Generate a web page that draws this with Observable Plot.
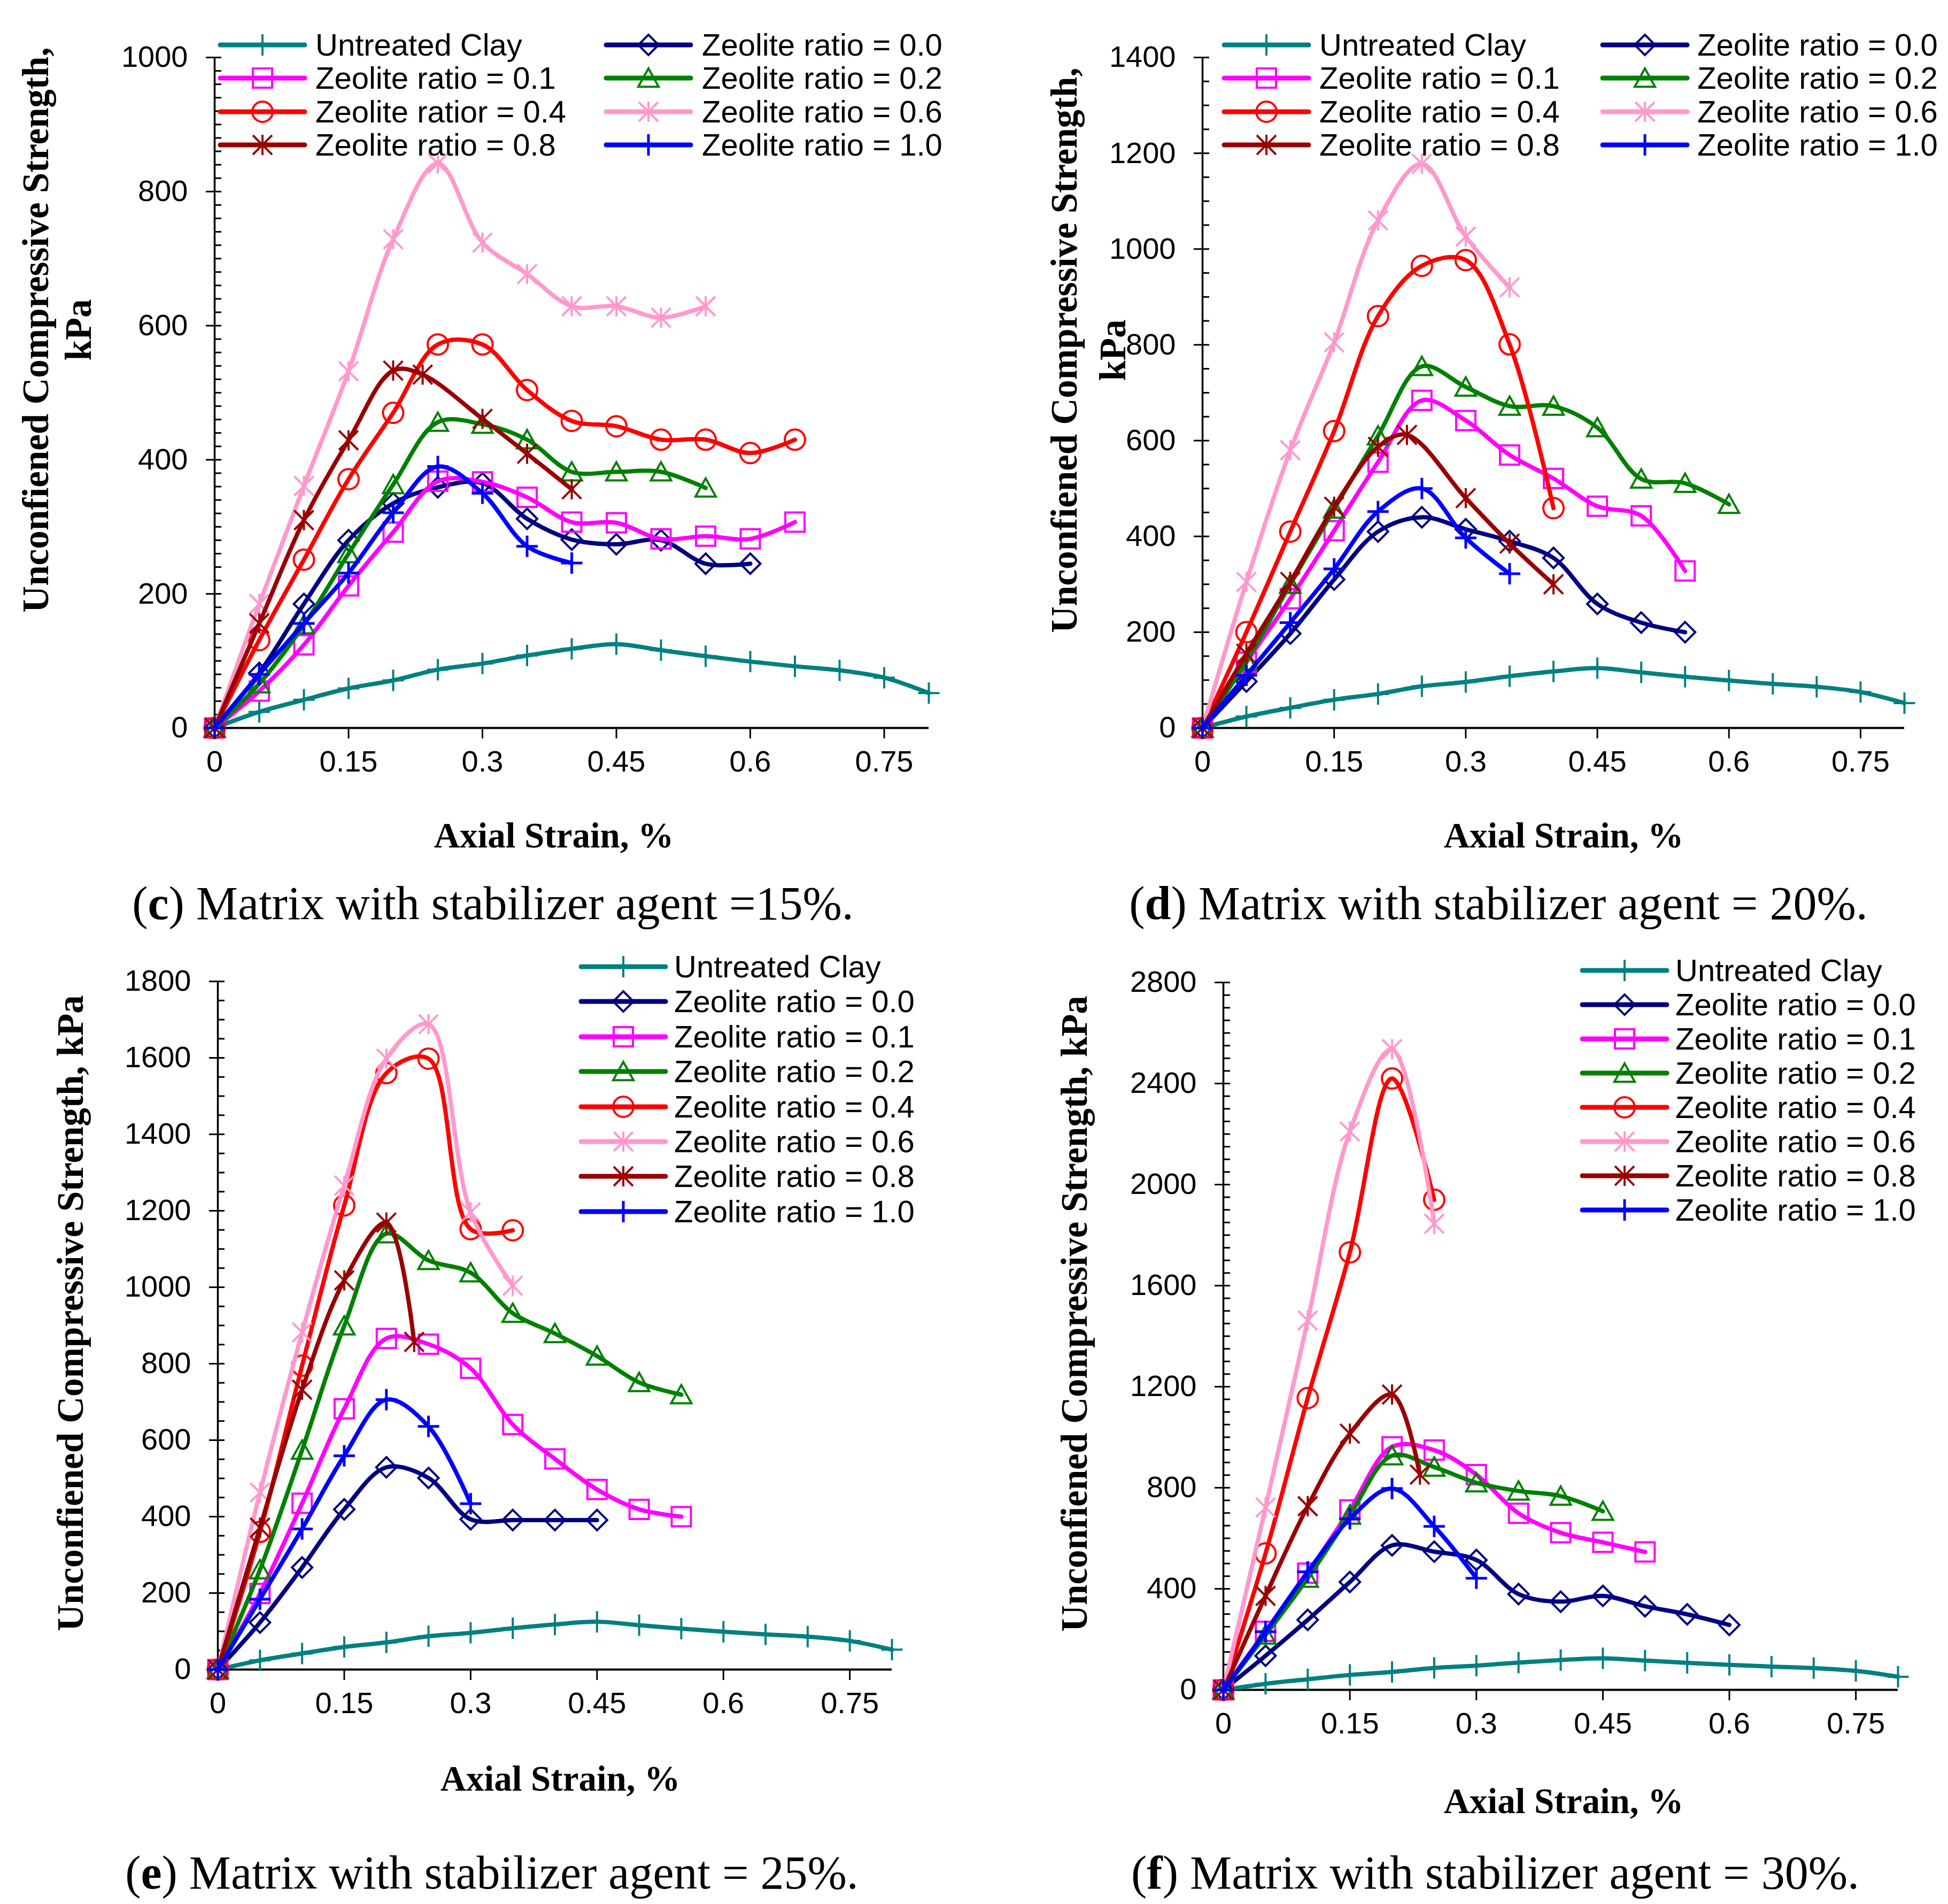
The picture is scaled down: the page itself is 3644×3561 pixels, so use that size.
<!DOCTYPE html>
<html><head><meta charset="utf-8">
<script src="https://cdn.jsdelivr.net/npm/d3@7"></script>
<script src="https://cdn.jsdelivr.net/npm/@observablehq/plot@0.6"></script>
<style>
html,body{margin:0;padding:0;background:#fff;}
#page{position:relative;width:3644px;height:3561px;overflow:hidden;background:#fff;}
.abs{position:absolute;white-space:nowrap;line-height:1;}
.serif{font-family:"Liberation Serif","Times New Roman",serif;color:#000;}
.sans{font-family:"Liberation Sans",Arial,sans-serif;color:#000;}
svg.plot{position:absolute;overflow:visible;}
</style></head><body><div id="page"></div>
<script>
// ---------------- DATA ----------------
const strainSteps = [0,0.05,0.1,0.15,0.2,0.25,0.3,0.35,0.4,0.45,0.5,0.55,0.6,0.65,0.7,0.75,0.8];
const strainRatio08 = [0,0.05,0.1,0.15,0.2,0.233,0.3,0.35,0.4];
const xTickValues = [0,0.15,0.3,0.45,0.6,0.75];

const untreatedClay = [0,24,42,59,71,87,96,108,118,125,116,107,99,92,86,75,52];

// (c) stabilizer agent = 15%
const s15_r00 = [0,82,185,280,335,359,365,312,281,274,280,245,245];
const s15_r01 = [0,55,124,212,292,368,367,344,307,306,282,286,282,307];
const s15_r02 = [0,66,154,260,363,456,453,430,382,382,382,358];
const s15_r04 = [0,131,251,371,470,572,572,504,458,450,430,430,410,430];
const s15_r06 = [0,185,361,532,729,842,724,677,629,629,612,629];
const s15_r08 = [0,156,310,429,533,527,461,409,356];
const s15_r10 = [0,80,156,231,321,390,350,271,246];

// (d) stabilizer agent = 20%
const s20_r00 = [0,97,197,310,410,440,415,390,355,259,220,200];
const s20_r01 = [0,137,270,412,555,684,642,570,521,463,443,328];
const s20_r02 = [0,140,300,457,610,755,712,672,672,627,520,511,467];
const s20_r04 = [0,200,410,620,860,965,977,801,459];
const s20_r06 = [0,305,580,805,1060,1178,1026,920];
const s20_r08 = [0,155,305,462,587,612,480,385,300];
const s20_r10 = [0,110,220,332,452,500,397,322];

// (e) stabilizer agent = 25%
const s25_r00 = [0,123,267,419,529,501,393,391,391,391];
const s25_r01 = [0,199,435,682,866,851,788,641,551,471,419,400];
const s25_r02 = [0,261,574,899,1140,1070,1038,932,879,820,751,719];
const s25_r04 = [0,360,795,1214,1560,1598,1152,1149];
const s25_r06 = [0,463,882,1266,1598,1688,1196,1004];
const s25_r08 = [0,371,732,1018,1169,857];
const s25_r10 = [0,184,368,559,706,636,434];

// (f) stabilizer agent = 30%
const s30_r00 = [0,135,277,427,572,547,514,379,349,372,331,299,257];
const s30_r01 = [0,232,462,712,962,949,852,699,622,584,546];
const s30_r02 = [0,217,442,692,927,882,820,787,767,707];
const s30_r04 = [0,540,1155,1732,2420,1940];
const s30_r06 = [0,722,1462,2210,2536,1845];
const s30_r08 = [0,372,727,1014,1169,852];
const s30_r10 = [0,230,467,677,797,647,442];

const yTicks15 = [0,200,400,600,800,1000];
const yTicks20 = [0,200,400,600,800,1000,1200,1400];
const yTicks25 = [0,200,400,600,800,1000,1200,1400,1600,1800];
const yTicks30 = [0,400,800,1200,1600,2000,2400,2800];

const legendLabels15 = ["Untreated Clay","Zeolite ratio = 0.0","Zeolite ratio = 0.1","Zeolite ratio = 0.2","Zeolite ratior = 0.4","Zeolite ratio = 0.6","Zeolite ratio = 0.8","Zeolite ratio = 1.0"];
const legendLabels = ["Untreated Clay","Zeolite ratio = 0.0","Zeolite ratio = 0.1","Zeolite ratio = 0.2","Zeolite ratio = 0.4","Zeolite ratio = 0.6","Zeolite ratio = 0.8","Zeolite ratio = 1.0"];

const yTitle2 = ["Unconfiened Compressive Strength,", "kPa"];
const yTitle1 = "Unconfiened Compressive Strength, kPa";
const xTitle = "Axial Strain, %";
const captions = [
  ["c", " Matrix with stabilizer agent =15%."],
  ["d", " Matrix with stabilizer agent = 20%."],
  ["e", " Matrix with stabilizer agent = 25%."],
  ["f", " Matrix with stabilizer agent = 30%."]
];

// ---------------- STYLE ----------------
const colors = ["#008080","#000080","#FF00FF","#008000","#FF0000","#FF99CC","#990000","#0000FF"];
const R = s => Math.sqrt(s / Math.PI);
const symPlus = {draw(c,s){const r=R(s);c.moveTo(-r,0);c.lineTo(r,0);c.moveTo(0,-r);c.lineTo(0,r);}};
const symDiamond = {draw(c,s){const r=R(s);c.moveTo(0,-r);c.lineTo(r,0);c.lineTo(0,r);c.lineTo(-r,0);c.closePath();}};
const symSquare = {draw(c,s){const r=R(s);c.moveTo(-r,-r);c.lineTo(r,-r);c.lineTo(r,r);c.lineTo(-r,r);c.closePath();}};
const symTriangle = {draw(c,s){const r=R(s);c.moveTo(0,-r*0.95);c.lineTo(r,r*0.85);c.lineTo(-r,r*0.85);c.closePath();}};
const symCircle = {draw(c,s){const r=R(s);c.moveTo(r,0);c.arc(0,0,r,0,2*Math.PI);c.closePath();}};
const symStar = {draw(c,s){const r=R(s);c.moveTo(-r,-r);c.lineTo(r,r);c.moveTo(-r,r);c.lineTo(r,-r);c.moveTo(0,-r*1.05);c.lineTo(0,r*1.05);}};
const symbols = [symPlus,symDiamond,symSquare,symTriangle,symCircle,symStar,symStar,symPlus];
const radii = [20,19,18,19,19,18,18,20];
const markW = [4,4,4,4,4,4,4,5];
const SANS = '"Liberation Sans", Arial, sans-serif';

const panels = [
  {series:[untreatedClay,s15_r00,s15_r01,s15_r02,s15_r04,s15_r06,s15_r08,s15_r10], yTicks:yTicks15, minor:20,
   svgLeft:0, svgTop:0, x0:401, x1:1737, y0:1361, ytop:107,
   legend:{labels:legendLabels15, cols:2, colX:[408,1130], textX:[590,1313], rowY:84, rowStep:62.3},
   yTitle:{two:true, x1:67, x2:147, y:617}, xTitle:{x:1036, y:1562}, cap:{x:922, y:1690}},
  {series:[untreatedClay,s20_r00,s20_r01,s20_r02,s20_r04,s20_r06,s20_r08,s20_r10], yTicks:yTicks20, minor:50,
   svgLeft:1822, svgTop:0, x0:2249, x1:3562, y0:1361, ytop:107,
   legend:{labels:legendLabels, cols:2, colX:[2286,2994], textX:[2468,3175], rowY:84, rowStep:62.3},
   yTitle:{two:true, x1:1991, x2:2082, y:655}, xTitle:{x:2925, y:1562}, cap:{x:2803, y:1690}},
  {series:[untreatedClay,s25_r00,s25_r01,s25_r02,s25_r04,s25_r06,s25_r08,s25_r10], yTicks:yTicks25, minor:50,
   svgLeft:0, svgTop:1760, x0:407, x1:1668, y0:3122, ytop:1835,
   legend:{labels:legendLabels, cols:1, colX:[1083], textX:[1261], rowY:1808, rowStep:65.4},
   yTitle:{two:false, x1:132, y:2456}, xTitle:{x:1048, y:3326}, cap:{x:920, y:3503}},
  {series:[untreatedClay,s30_r00,s30_r01,s30_r02,s30_r04,s30_r06,s30_r08,s30_r10], yTicks:yTicks30, minor:50,
   svgLeft:1822, svgTop:1760, x0:2288, x1:3550, y0:3160, ytop:1837,
   legend:{labels:legendLabels, cols:1, colX:[2956], textX:[3134], rowY:1815, rowStep:64},
   yTitle:{two:false, x1:2010, y:2457}, xTitle:{x:2925, y:3368}, cap:{x:2797, y:3503}}
];

const page = document.getElementById("page");

function addText(html, x, y, cls, size, bold, rotate) {
  const d = document.createElement("div");
  d.className = "abs " + cls;
  d.style.left = x + "px"; d.style.top = y + "px";
  d.style.fontSize = size + "px";
  if (bold) d.style.fontWeight = "bold";
  d.style.transform = "translate(-50%,-50%)" + (rotate ? " rotate(-90deg)" : "");
  d.innerHTML = html;
  page.appendChild(d);
}

panels.forEach((p, pi) => {
  const rows = [];
  p.series.forEach((vals, i) => {
    const xs = i === 6 ? strainRatio08 : strainSteps;
    vals.forEach((v, j) => rows.push({s: i, strain: xs[j], ucs: v}));
  });
  const W = 1822;
  const mb = 130;
  const H = p.y0 - p.svgTop + mb;
  const frameW = p.x1 - p.x0;
  const ymax = p.yTicks[p.yTicks.length - 1];
  const minorTicks = d3.range(0, ymax + 0.001, p.minor);

  const marks = [
    Plot.tickY(minorTicks, {y: d => d, insetRight: frameW - 13, stroke: "#000", strokeWidth: 3}),
    Plot.axisY({ticks: p.yTicks, tickSize: 16, tickPadding: 34, tickFormat: d => String(d), fontSize: 56, fontFamily: SANS, strokeWidth: 3, label: null}),
    Plot.axisX({ticks: xTickValues, tickSize: 20, tickPadding: 22, tickFormat: d => String(d), fontSize: 56, fontFamily: SANS, strokeWidth: 3, label: null}),
    Plot.ruleX([0], {stroke: "#000", strokeWidth: 3.5}),
    Plot.ruleY([0], {stroke: "#000", strokeWidth: 4})
  ];
  for (let i = 0; i < 8; i++) {
    const data = rows.filter(r => r.s === i);
    marks.push(Plot.line(data, {x: "strain", y: "ucs", stroke: colors[i], strokeWidth: 8, curve: "catmull-rom", strokeLinejoin: "round", strokeLinecap: "round"}));
    marks.push(Plot.dot(data, {x: "strain", y: "ucs", symbol: symbols[i], r: radii[i], stroke: colors[i], fill: "none", strokeWidth: markW[i]}));
  }
  const chart = Plot.plot({
    width: W, height: H,
    marginLeft: p.x0 - p.svgLeft, marginRight: p.svgLeft + W - p.x1,
    marginTop: p.ytop - p.svgTop, marginBottom: mb,
    x: {domain: [0, 0.8]},
    y: {domain: [0, ymax]},
    style: {background: "transparent", fontFamily: SANS, overflow: "visible"},
    marks
  });
  chart.classList.add("plot");
  chart.style.left = p.svgLeft + "px";
  chart.style.top = p.svgTop + "px";
  page.appendChild(chart);

  // legend
  const L = p.legend;
  L.labels.forEach((lab, i) => {
    const col = L.cols === 2 ? i % 2 : 0;
    const row = L.cols === 2 ? Math.floor(i / 2) : i;
    const cy = L.rowY + row * L.rowStep;
    const sw = d3.create("svg").attr("width", 170).attr("height", 60)
      .style("position", "absolute").style("left", L.colX[col] + "px").style("top", (cy - 30) + "px").style("overflow", "visible");
    sw.append("line").attr("x1", 4).attr("x2", 162).attr("y1", 30).attr("y2", 30)
      .attr("stroke", colors[i]).attr("stroke-width", 9).attr("stroke-linecap", "round");
    sw.append("path").attr("transform", "translate(83,30)")
      .attr("d", d3.symbol(symbols[i], Math.PI * radii[i] * radii[i])())
      .attr("fill", "none").attr("stroke", colors[i]).attr("stroke-width", markW[i]);
    page.appendChild(sw.node());
    const t = document.createElement("div");
    t.className = "abs sans";
    t.style.left = L.textX[col] + "px"; t.style.top = cy + "px";
    t.style.fontSize = "58px"; t.style.transform = "translateY(-50%)";
    t.textContent = lab;
    page.appendChild(t);
  });

  // titles
  if (p.yTitle.two) {
    addText(yTitle2[0], p.yTitle.x1, p.yTitle.y, "serif", 69, true, true);
    addText(yTitle2[1], p.yTitle.x2, p.yTitle.y, "serif", 69, true, true);
  } else {
    addText(yTitle1, p.yTitle.x1, p.yTitle.y, "serif", 69, true, true);
  }
  addText(xTitle, p.xTitle.x, p.xTitle.y, "serif", 67, true, false);
  addText("(<b>" + captions[pi][0] + "</b>)" + captions[pi][1], p.cap.x, p.cap.y, "serif", 88, false, false);
});
</script></body></html>
